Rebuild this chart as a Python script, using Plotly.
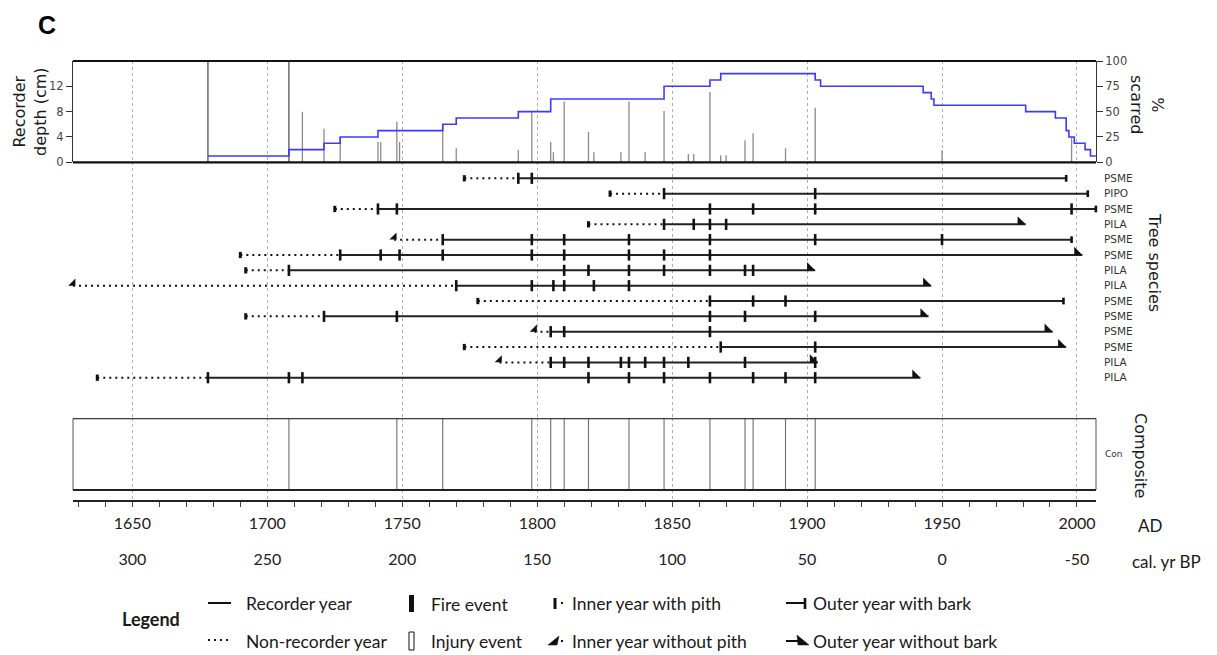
import plotly.graph_objects as go

# ---------------- data ----------------
ad_ticks = [1650, 1700, 1750, 1800, 1850, 1900, 1950, 2000]
ad_labels = ["1650", "1700", "1750", "1800", "1850", "1900", "1950", "2000"]
bp_labels = ["300", "250", "200", "150", "100", "50", "0", "-50"]

# recorder depth (cm) per fire year, upper panel
depth_years = [1678, 1708, 1713, 1721, 1727, 1741, 1742, 1748, 1749, 1765, 1770,
               1793, 1798, 1805, 1806, 1810, 1819, 1821, 1831, 1834, 1840, 1847,
               1856, 1858, 1864, 1868, 1870, 1877, 1880, 1892, 1903, 1950, 1998]
depth_cm = [16, 16, 8.0, 5.3, 4.0, 3.2, 3.2, 6.4, 3.2, 6.0, 2.2,
            2.0, 8.1, 3.2, 1.6, 9.6, 4.8, 1.6, 1.6, 9.6, 1.6, 8.1,
            1.3, 1.3, 11.1, 1.1, 1.1, 3.5, 4.6, 2.2, 8.6, 1.9, 4.0]

# % scarred step line (value holds from each year onward)
pct_years = [1678, 1708, 1721, 1727, 1741, 1765, 1770, 1793, 1805, 1847, 1864,
             1868, 1903, 1905, 1943, 1946, 1947, 1981, 1992, 1996, 1997, 1999,
             2003, 2005, 2007]
pct_scarred = [6.25, 12.5, 18.75, 25, 31.25, 37.5, 43.75, 50, 62.5, 75, 81.25,
               87.5, 81.25, 75, 68.75, 62.5, 56.25, 50, 43.75, 31.25, 25, 18.75,
               12.5, 6.25, 6.25]

# individual trees, top to bottom
species = ["PSME", "PIPO", "PSME", "PILA", "PSME", "PSME", "PILA",
           "PILA", "PSME", "PSME", "PSME", "PSME", "PILA", "PILA"]
inner_year = [1773, 1827, 1725, 1819, 1747, 1690, 1692,
              1628, 1778, 1692, 1799, 1773, 1786, 1637]
inner_pith = [True, True, True, True, False, True, True,
              False, True, True, False, True, False, True]
outer_year = [1996, 2004, 2007, 1981, 1998, 2002, 1903,
              1946, 1995, 1945, 1991, 1996, 1904, 1942]
outer_bark = [True, True, True, False, True, False, False,
              False, True, False, False, False, False, False]
fire_years = [
    [1793, 1798],
    [1847, 1903],
    [1741, 1748, 1864, 1880, 1903, 1998],
    [1847, 1858, 1864, 1870],
    [1765, 1798, 1810, 1834, 1864, 1903, 1950],
    [1727, 1742, 1749, 1765, 1798, 1810, 1834, 1847, 1864],
    [1708, 1810, 1819, 1834, 1847, 1864, 1877, 1880],
    [1770, 1798, 1806, 1810, 1821, 1834],
    [1864, 1880, 1892],
    [1721, 1748, 1864, 1877, 1903],
    [1805, 1810, 1864],
    [1868, 1903],
    [1805, 1810, 1819, 1831, 1834, 1840, 1847, 1856, 1877, 1903],
    [1678, 1708, 1713, 1819, 1834, 1847, 1864, 1880, 1892, 1903],
]

# composite fire years
composite_years = [1708, 1748, 1765, 1798, 1805, 1810, 1819, 1834, 1847,
                   1864, 1877, 1880, 1892, 1903]

# ---------------- geometry ----------------
W, H = 1217, 655
L, R, T, B = 73, 121, 61, 155
PW, PH = W - L - R, H - T - B


def px(x):
    return (x - L) / PW


def py(y):
    return (H - B - y) / PH


top_dom = [py(162.3), 1.0]
tree_dom = [py(418.3), py(162.3)]
comp_dom = [0.0, py(418.3)]
row_px0, row_step = 178.3, 15.34
tree_range = [1 + (418.3 - row_px0) / row_step, 1 - (row_px0 - 162.3) / row_step]
comp_range = [-(500 - 490) / (490 - 418.3), 1]

INK = "#111111"
SANS = "DejaVu Sans"
CAL = "Lato"

fig = go.Figure()

# ---------------- upper panel ----------------
tall_x, tall_y, bar_x, bar_y = [], [], [], []
for yr, d in zip(depth_years, depth_cm):
    if d >= 16:
        tall_x += [yr, yr, None]; tall_y += [0, d, None]
    else:
        bar_x += [yr, yr, None]; bar_y += [0, d, None]
fig.add_trace(go.Scatter(x=bar_x, y=bar_y, mode="lines", yaxis="y",
                         line=dict(color="#8a8a8a", width=1.3), hoverinfo="skip"))
fig.add_trace(go.Scatter(x=tall_x, y=tall_y, mode="lines", yaxis="y",
                         line=dict(color="#555555", width=1.3), hoverinfo="skip"))
fig.add_trace(go.Scatter(x=pct_years, y=pct_scarred, mode="lines", yaxis="y2",
                         line=dict(color="#3b3bff", width=1.6, shape="hv"),
                         hoverinfo="skip"))

# ---------------- tree panel ----------------
rows = list(range(1, len(species) + 1))
dot_x, dot_y, sol_x, sol_y, fx, fy = [], [], [], [], [], []
for r, a, f, b in zip(rows, inner_year, fire_years, outer_year):
    dot_x += [a, f[0], None]; dot_y += [r, r, None]
    sol_x += [f[0], b, None]; sol_y += [r, r, None]
    fx += f; fy += [r] * len(f)

fig.add_trace(go.Scatter(x=dot_x, y=dot_y, mode="lines", yaxis="y3",
                         line=dict(color=INK, width=2, dash="2px,4px"), hoverinfo="skip"))
fig.add_trace(go.Scatter(x=sol_x, y=sol_y, mode="lines", yaxis="y3",
                         line=dict(color="#222222", width=2), hoverinfo="skip"))
fig.add_trace(go.Scatter(x=fx, y=fy, mode="markers", yaxis="y3", cliponaxis=False,
                         marker=dict(symbol="line-ns", size=8,
                                     line=dict(width=2.6, color=INK)),
                         hoverinfo="skip"))

pith_x = [a for a, p in zip(inner_year, inner_pith) if p]
pith_y = [r for r, p in zip(rows, inner_pith) if p]
nop_x = [a for a, p in zip(inner_year, inner_pith) if not p]
nop_y = [r - 0.16 for r, p in zip(rows, inner_pith) if not p]
bark_x = [b for b, k in zip(outer_year, outer_bark) if k]
bark_y = [r for r, k in zip(rows, outer_bark) if k]
nob_x = [b - 2 for b, k in zip(outer_year, outer_bark) if not k]
nob_y = [r - 0.18 for r, k in zip(rows, outer_bark) if not k]

fig.add_trace(go.Scatter(x=pith_x, y=pith_y, mode="markers", yaxis="y3", cliponaxis=False,
                         marker=dict(symbol="line-ns", size=4.5,
                                     line=dict(width=3, color=INK)), hoverinfo="skip"))
fig.add_trace(go.Scatter(x=bark_x, y=bark_y, mode="markers", yaxis="y3", cliponaxis=False,
                         marker=dict(symbol="line-ns", size=4.8,
                                     line=dict(width=2.6, color=INK)), hoverinfo="skip"))
fig.add_trace(go.Scatter(x=nop_x, y=nop_y, mode="markers", yaxis="y3", cliponaxis=False,
                         marker=dict(symbol="triangle-se", size=8, color=INK,
                                     line=dict(width=0)), hoverinfo="skip"))
fig.add_trace(go.Scatter(x=nob_x, y=nob_y, mode="markers", yaxis="y3", cliponaxis=False,
                         marker=dict(symbol="triangle-sw", size=9, color=INK,
                                     line=dict(width=0)), hoverinfo="skip"))

# ---------------- composite panel ----------------
cx, cy = [], []
for yr in composite_years:
    cx += [yr, yr, None]; cy += [0, 1, None]
fig.add_trace(go.Scatter(x=cx, y=cy, mode="lines", yaxis="y4",
                         line=dict(color="#6e6e6e", width=1.1), hoverinfo="skip"))
# carrier for the cal. yr BP axis
fig.add_trace(go.Scatter(x=[ad_ticks[0]], y=[0.5], xaxis="x2", yaxis="y4",
                         mode="markers", marker=dict(opacity=0), hoverinfo="skip"))

shapes = []
# panel frames
shapes.append(dict(type="line", xref="paper", yref="y domain", x0=0, x1=1, y0=1, y1=1,
                   line=dict(color=INK, width=2.2)))
shapes.append(dict(type="line", xref="paper", yref="y domain", x0=0, x1=1, y0=0, y1=0,
                   line=dict(color=INK, width=2.2)))
shapes.append(dict(type="rect", xref="paper", yref="y4", x0=0, x1=1, y0=0, y1=1,
                   line=dict(color="#555555", width=1)))
shapes.append(dict(type="line", xref="paper", yref="y4", x0=0, x1=1, y0=1, y1=1,
                   line=dict(color="#222222", width=2)))
shapes.append(dict(type="line", xref="paper", yref="y4", x0=0, x1=1, y0=0, y1=0,
                   line=dict(color="#222222", width=2)))

# ---------------- legend (drawn in page pixels) ----------------
def seg(x0, y0, x1, y1, w=2, dash=None, color=INK):
    ln = dict(color=color, width=w)
    if dash:
        ln["dash"] = dash
    return dict(type="line", xref="paper", yref="paper",
                x0=px(x0), y0=py(y0), x1=px(x1), y1=py(y1), line=ln)


def poly(pts):
    path = "M " + " L ".join(f"{px(x):.5f},{py(y):.5f}" for x, y in pts) + " Z"
    return dict(type="path", xref="paper", yref="paper", path=path,
                fillcolor=INK, line=dict(color=INK, width=0.5))


shapes += [
    seg(208, 603, 231, 603, 2),
    seg(208, 640, 231, 640, 2, "2px,4px"),
    dict(type="rect", xref="paper", yref="paper", x0=px(409), x1=px(414),
         y0=py(612), y1=py(595), fillcolor=INK, line=dict(width=0)),
    dict(type="rect", xref="paper", yref="paper", x0=px(409), x1=px(414),
         y0=py(650), y1=py(632), line=dict(color=INK, width=1)),
    seg(555, 598, 555, 609, 3),
    seg(561, 603, 563, 603, 2),
    poly([(548, 645), (559, 636), (557, 645)]),
    seg(561, 641, 563, 641, 2),
    seg(786, 603, 805, 603, 2),
    seg(805, 598, 805, 609, 2.6),
    seg(786, 641, 799, 641, 2),
    poly([(797, 635), (809, 645), (798, 645)]),
]

annotations = []


def note(text, x, y, size=17.5, family=CAL, angle=0, xanchor="left", bold=False, color="#1a1a1a"):
    if bold:
        text = f"<b>{text}</b>"
    annotations.append(dict(text=text, xref="paper", yref="paper", x=px(x), y=py(y),
                            xanchor=xanchor, yanchor="middle", showarrow=False,
                            textangle=angle, font=dict(family=family, size=size, color=color)))


note("C", 47, 25, size=25, family="Liberation Sans", xanchor="center", bold=True, color="#000")
note("Recorder<br>depth (cm)", 30, 112, size=16, family=SANS, angle=-90, xanchor="center")
note("%<br>scarred", 1147, 104, size=16, family=SANS, angle=90, xanchor="center")
note("Tree species", 1155, 262, size=16, family=SANS, angle=90, xanchor="center")
note("Composite", 1141, 455, size=16, family=SANS, angle=90, xanchor="center")
note("AD", 1150, 525, size=17)
annotations[-1]["xanchor"] = "center"
note("cal. yr BP", 1166, 561, size=17, xanchor="center")
note("Legend", 151, 619, size=18, xanchor="center", bold=True)
note("Recorder year", 244, 603)
note("Non-recorder year", 244, 641)
note("Fire event", 429, 604)
note("Injury event", 429, 641)
note("Inner year with pith", 570, 603)
note("Inner year without pith", 570, 641)
note("Outer year with bark", 811, 603)
note("Outer year without bark", 811, 641)

axis_font = dict(family=SANS, size=11.5, color="#444444")
x_range = [1628, 2007.05]

fig.update_layout(
    width=W, height=H,
    margin=dict(l=L, r=R, t=T, b=B, pad=0),
    paper_bgcolor="white", plot_bgcolor="white",
    showlegend=False,
    shapes=shapes, annotations=annotations,
    xaxis=dict(range=x_range, anchor="y4", showline=True, linecolor="#222222", linewidth=2,
               tickmode="array", tickvals=ad_ticks, ticktext=ad_labels,
               ticks="outside", ticklen=5, tickcolor="#444444", tickwidth=1,
               tickfont=dict(family=CAL, size=16, color="#222222"), ticklabelstandoff=3,
               showgrid=True, gridcolor="#b0b0b0", griddash="dot", gridwidth=1,
               minor=dict(tickmode="linear", tick0=1630, dtick=10, ticks="outside",
                          ticklen=5, tickcolor="#444444", showgrid=False),
               zeroline=False, fixedrange=True),
    xaxis2=dict(range=x_range, overlaying="x", anchor="y4", side="bottom",
                tickmode="array", tickvals=ad_ticks, ticktext=bp_labels,
                ticks="", showline=False, showgrid=False, zeroline=False,
                tickfont=dict(family=CAL, size=16, color="#222222"), ticklabelstandoff=48),
    yaxis=dict(domain=top_dom, range=[0, 16], anchor="x", tickvals=[0, 4, 8, 12],
               ticks="outside", ticklen=6, tickcolor="#333333", showline=True,
               linecolor="#333333", linewidth=1, showgrid=False, zeroline=False,
               tickfont=axis_font),
    yaxis2=dict(range=[0, 100], overlaying="y", side="right", anchor="x",
                tickvals=[0, 25, 50, 75, 100], ticks="outside", ticklen=6,
                tickcolor="#333333", showline=True, linecolor="#333333", linewidth=1,
                showgrid=False, zeroline=False, tickfont=axis_font),
    yaxis3=dict(domain=tree_dom, range=tree_range, anchor="x", side="right",
                tickvals=rows, ticktext=species, ticks="", showline=False,
                showgrid=False, zeroline=False, ticklabelstandoff=7,
                tickfont=dict(family=SANS, size=10.5, color="#333333")),
    yaxis4=dict(domain=comp_dom, range=comp_range, anchor="x", side="right",
                tickvals=[0.5], ticktext=["Con"], ticks="", showline=False,
                showgrid=False, zeroline=False, ticklabelstandoff=8,
                tickfont=dict(family=SANS, size=9, color="#333333")),
)

fig.write_html("out.html")
